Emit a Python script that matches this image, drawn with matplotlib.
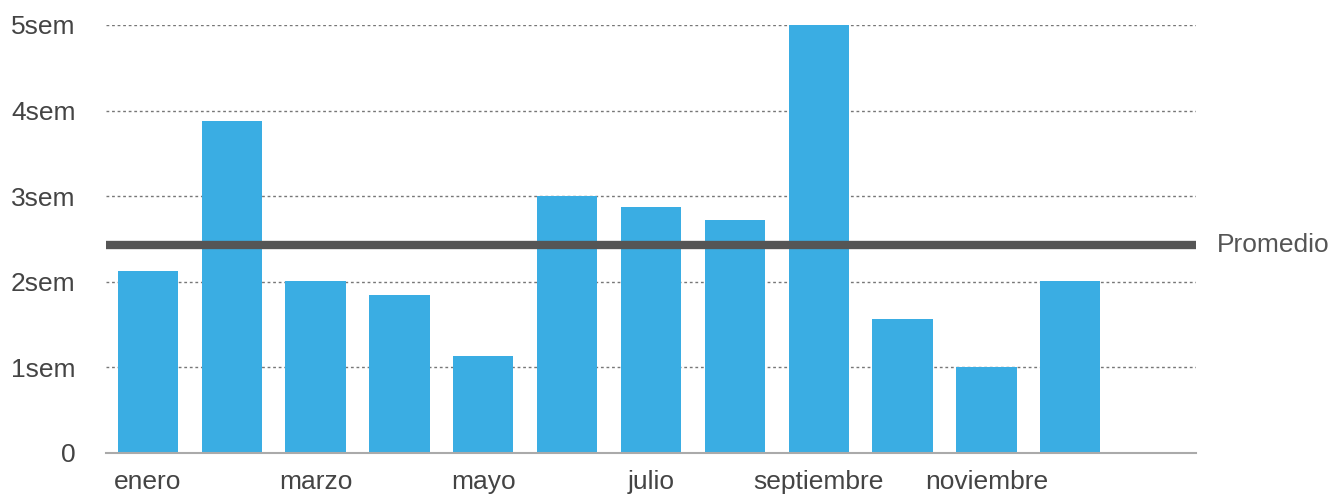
import matplotlib.pyplot as plt
import numpy as np

plt.rcParams['font.family'] = ['Liberation Sans', 'DejaVu Sans']

# datos
meses = ['enero', 'febrero', 'marzo', 'abril', 'mayo', 'junio', 'julio',
         'agosto', 'septiembre', 'octubre', 'noviembre', 'diciembre']
semanas = [2.13, 3.88, 2.01, 1.85, 1.13, 3.0, 2.87, 2.72, 5.0, 1.57, 1.0, 2.01]
yticks = [0, 1, 2, 3, 4, 5]
yticklabels = ['0', '1sem', '2sem', '3sem', '4sem', '5sem']

fig = plt.figure(figsize=(13.36, 4.95), dpi=100)
ax = fig.add_axes([106 / 1336, 42 / 495, 1090 / 1336, 428 / 495])

x = np.arange(len(meses))
ax.bar(x, semanas, width=0.72, color='#3AADE3', zorder=2)

promedio = np.mean(semanas)
ax.axhline(promedio, color='#555555', linewidth=6, zorder=3)
ax.text(len(meses) + 0.75, promedio, 'Promedio', fontsize=19, color='#555555',
        va='center', ha='left')

ax.set_xlim(-0.5, len(meses) + 0.5)
ax.set_ylim(0, 5)

ax.set_yticks(yticks)
ax.set_yticklabels(yticklabels)
ax.set_xticks(x[::2])
ax.set_xticklabels(meses[::2])

for y in yticks[1:]:
    ax.axhline(y, color='#777777', linewidth=1, linestyle=(0, (2, 2)), zorder=1)

for s in ['top', 'right', 'left']:
    ax.spines[s].set_visible(False)
ax.spines['bottom'].set_color('#aaaaaa')
ax.spines['bottom'].set_linewidth(1.5)

ax.tick_params(axis='both', length=0, labelsize=19, colors='#444444')
ax.tick_params(axis='y', pad=22)
ax.tick_params(axis='x', pad=12)

plt.savefig('out.png')
